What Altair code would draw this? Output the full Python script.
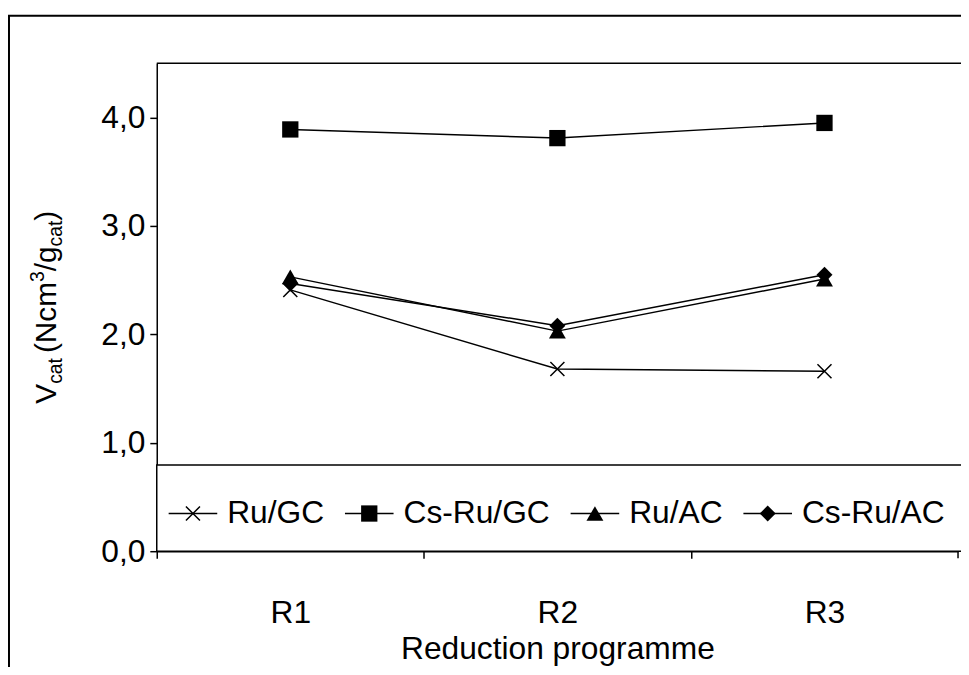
import altair as alt
import pandas as pd

# ---------------- data ----------------
categories = ["R1", "R2", "R3"]
series_names = ["Ru/GC", "Cs-Ru/GC", "Ru/AC", "Cs-Ru/AC"]
ru_gc = [2.41, 1.68, 1.66]
cs_ru_gc = [3.89, 3.81, 3.95]
ru_ac = [2.53, 2.03, 2.51]
cs_ru_ac = [2.47, 2.08, 2.55]
y_ticks = [0, 1, 2, 3, 4]
x_title = "Reduction programme"
# y title pieces: (text, role) role: main / sub / sup / gap
y_title_parts = [("V", "main"), ("cat", "sub"), (" ", "gap"), ("(Ncm", "main"), ("3", "sup"),
                 ("/g", "main"), ("cat", "sub"), (")", "main")]

rows = []
for name, vals in zip(series_names, [ru_gc, cs_ru_gc, ru_ac, cs_ru_ac]):
    for c, v in zip(categories, vals):
        rows.append({"series": name, "cat": c, "value": v})
df = pd.DataFrame(rows)

# ---------------- layout ----------------
W, H = 808, 492
FONT = "Liberation Sans"
FS = 32
STEP = W / len(categories)
X_PATH = "M-1,-1L1,1M-1,1L1,-1"
shape_of = {"Ru/GC": X_PATH, "Cs-Ru/GC": "square", "Ru/AC": "triangle-up", "Cs-Ru/AC": "diamond"}
size_of = {"Ru/GC": 200, "Cs-Ru/GC": 270, "Ru/AC": 290, "Cs-Ru/AC": 260}

x_enc = alt.X(
    "cat:N",
    sort=categories,
    scale=alt.Scale(type="point", domain=categories, padding=0.5),
    axis=alt.Axis(
        title=x_title, titleFont=FONT, titleFontSize=FS, titleFontWeight="normal",
        titleColor="black", titlePadding=5,
        labelFont=FONT, labelFontSize=FS, labelColor="black", labelAngle=0,
        labelPadding=40,
        ticks=True, tickSize=7, tickColor="black", tickWidth=1.5,
        tickOffset=-STEP / 2, labelOffset=STEP / 2,
        domainColor="black", domainWidth=1.5, grid=False,
    ),
)
y_enc = alt.Y(
    "value:Q",
    scale=alt.Scale(domain=[0, 4.5], nice=False, zero=True),
    axis=alt.Axis(
        title=None, values=y_ticks,
        labelExpr="replace(format(datum.value, '.1f'), '.', ',')",
        labelFont=FONT, labelFontSize=FS, labelColor="black", labelPadding=5,
        tickSize=7, tickColor="black", tickWidth=1.5,
        domainColor="black", domainWidth=1.5, grid=False,
    ),
)

one = pd.DataFrame({"k": [0]})

# outer figure frame
outer = alt.Chart(one).mark_rect(filled=False, stroke="black", strokeWidth=2).encode(
    x=alt.value(-149), x2=alt.value(W + 30), y=alt.value(-48), y2=alt.value(H + 160)
)
# top edge of plot area
top_edge = alt.Chart(one).mark_rule(color="black", strokeWidth=1.5).encode(
    x=alt.value(0), x2=alt.value(W + 10), y=alt.value(0)
)
# right end tick of x axis
end_tick = alt.Chart(one).mark_rule(color="black", strokeWidth=1.5).encode(
    x=alt.value(W), y=alt.value(H), y2=alt.value(H + 7)
)
# legend box
LEG_TOP = 405
legend_box = alt.Chart(one).mark_rect(fill="white", stroke="black", strokeWidth=1.5).encode(
    x=alt.value(0), x2=alt.value(W + 10), y=alt.value(LEG_TOP), y2=alt.value(H)
)

lines = alt.Chart(df).mark_line(color="black", strokeWidth=1.5).encode(
    x=x_enc, y=y_enc, detail="series:N", order="cat:N"
)

point_layers = []
for name in series_names:
    sub = df[df["series"] == name]
    if name == "Ru/GC":
        m = alt.Chart(sub).mark_point(shape=X_PATH, filled=False, stroke="black",
                                      strokeWidth=1.5, size=size_of[name], opacity=1)
    else:
        m = alt.Chart(sub).mark_point(shape=shape_of[name], filled=True, color="black",
                                      size=size_of[name], opacity=1)
    point_layers.append(m.encode(x=alt.X("cat:N", sort=categories), y="value:Q"))

# --------------- legend (manual, inside plot) ---------------
AW = {"R": .722, "u": .556, "/": .278, "G": .778, "C": .722, "s": .5, "-": .333, "A": .667,
      "V": .667, "c": .5, "a": .556, "t": .278, " ": .278, "(": .333, "N": .722, "m": .833,
      "3": .556, "g": .556, ")": .333}


def text_w(s, fs):
    return sum(AW.get(ch, .556) for ch in s) * fs


legend_layers = []
LY = 454
xs = 12
for name in series_names:
    le = xs + 49
    cx = (xs + le) / 2
    tx = le + 10
    legend_layers.append(alt.Chart(one).mark_rule(color="black", strokeWidth=1.5).encode(
        x=alt.value(xs), x2=alt.value(le), y=alt.value(LY)))
    if name == "Ru/GC":
        pm = alt.Chart(one).mark_point(shape=X_PATH, filled=False, stroke="black",
                                       strokeWidth=1.5, size=size_of[name], opacity=1)
    else:
        pm = alt.Chart(one).mark_point(shape=shape_of[name], filled=True, color="black",
                                       size=size_of[name], opacity=1)
    legend_layers.append(pm.encode(x=alt.value(cx), y=alt.value(LY)))
    legend_layers.append(alt.Chart(pd.DataFrame({"t": [name]})).mark_text(
        font=FONT, fontSize=FS, align="left", baseline="middle", color="black").encode(
        x=alt.value(tx), y=alt.value(LY), text="t:N"))
    xs = tx + text_w(name, FS) + 21

# --------------- rotated y title with sub/superscripts ---------------
TF = 30
TS = 19.5
sizes = {"main": TF, "sub": TS, "sup": TS, "gap": TF * 0.6}
base_x = {"main": -102, "sub": -96, "sup": -114}
total = sum(text_w(t, sizes[r]) for t, r in y_title_parts)
ycur = 246 + total / 2
title_layers = []
for t, r in y_title_parts:
    if r != "gap":
        title_layers.append(alt.Chart(pd.DataFrame({"t": [t]})).mark_text(
            font=FONT, fontSize=sizes[r], angle=270, align="left", baseline="alphabetic",
            color="black").encode(x=alt.value(base_x[r]), y=alt.value(ycur), text="t:N"))
    ycur -= text_w(t, sizes[r])

chart = alt.layer(
    outer, legend_box, top_edge, end_tick, lines, *point_layers, *legend_layers, *title_layers
).properties(
    width=W, height=H,
    padding={"left": 150, "top": 53, "right": 3, "bottom": 114},
    autosize=alt.AutoSizeParams(type="none"),
    background="white",
).configure_view(stroke=None)

chart.save("out.html", embed_options={"renderer": "svg", "actions": False})
